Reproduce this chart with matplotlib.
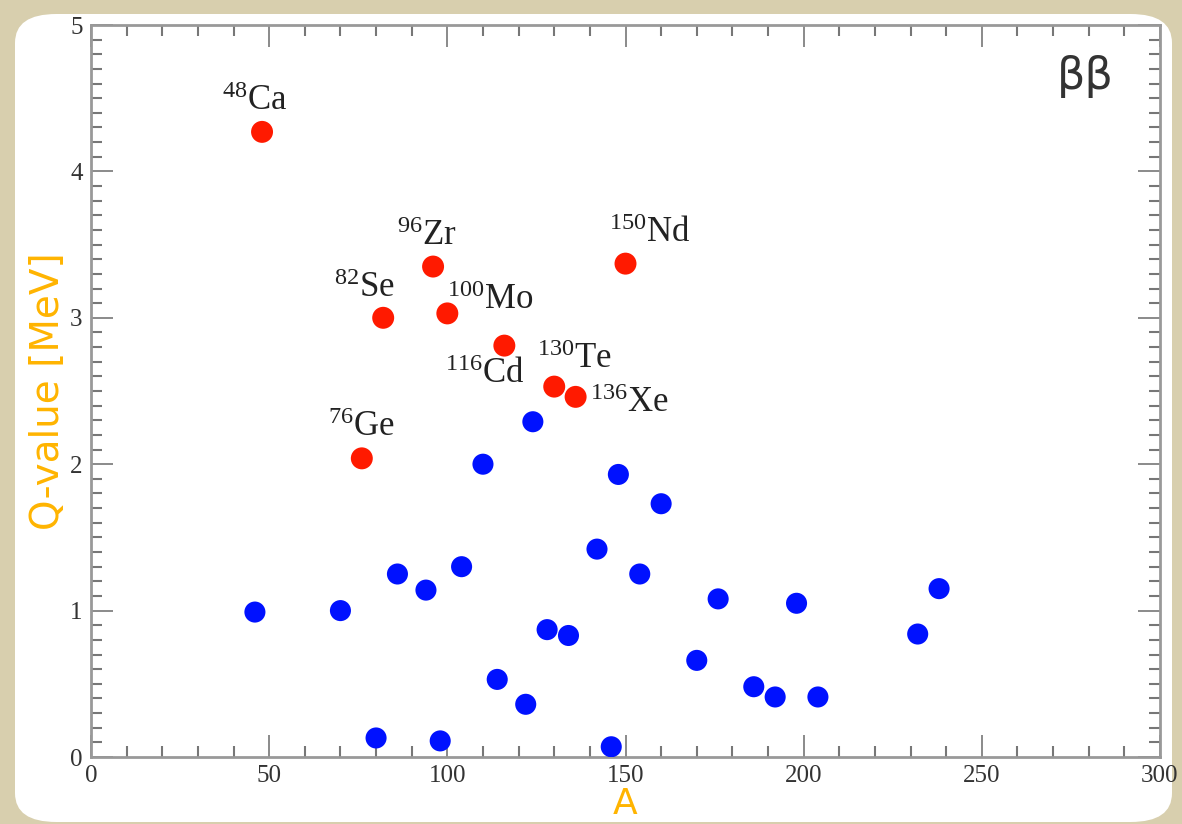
import matplotlib.pyplot as plt
from matplotlib.patches import FancyBboxPatch
from matplotlib.ticker import MultipleLocator

# double beta candidates (red) with labels
dbd_A = [48, 76, 82, 96, 100, 116, 130, 136, 150]
dbd_Q = [4.27, 2.04, 3.00, 3.35, 3.03, 2.81, 2.53, 2.46, 3.37]
dbd_names = ["Ca", "Ge", "Se", "Zr", "Mo", "Cd", "Te", "Xe", "Nd"]

# other isotopes (blue)
oth_A = [46, 70, 80, 86, 94, 98, 104, 110, 114, 122, 124, 128, 134,
         142, 146, 148, 154, 160, 170, 176, 186, 192, 198, 204, 232, 238]
oth_Q = [0.99, 1.00, 0.13, 1.25, 1.14, 0.11, 1.30, 2.00, 0.53, 0.36, 2.29, 0.87, 0.83,
         1.42, 0.07, 1.93, 1.25, 1.73, 0.66, 1.08, 0.48, 0.41, 1.05, 0.41, 0.84, 1.15]

# label offsets in pixels (dx, dy, ha, va)
lab_pos = {
    "Ca": (-7, 14, "center", "bottom"),
    "Ge": (0, 14, "center", "bottom"),
    "Se": (-19, 13, "center", "bottom"),
    "Zr": (-6, 14, "center", "bottom"),
    "Mo": (0, -4, "left", "bottom"),
    "Cd": (20, -12, "right", "top"),
    "Te": (-17, 11, "left", "bottom"),
    "Xe": (14, 10, "left", "top"),
    "Nd": (24, 14, "center", "bottom"),
}

plt.rcParams['mathtext.fontset'] = 'custom'
plt.rcParams['mathtext.rm'] = 'Liberation Serif'
plt.rcParams['mathtext.it'] = 'Liberation Serif'

fig = plt.figure(figsize=(11.82, 8.24), dpi=100)
fig.patch.set_facecolor('#d8cfae')

panel = FancyBboxPatch((15 / 1182, 2 / 824), 1157 / 1182, 808 / 824,
                       boxstyle="round,pad=0,rounding_size=0.035",
                       transform=fig.transFigure, facecolor='white',
                       edgecolor='none', zorder=-5)
fig.patches.append(panel)

ax = fig.add_axes([91 / 1182, 67 / 824, 1069 / 1182, 732 / 824])
ax.set_zorder(2)
ax.set_facecolor('white')

ax.scatter(oth_A, oth_Q, s=230, color='#0011ff', edgecolors='none', zorder=3)
ax.scatter(dbd_A, dbd_Q, s=250, color='#ff1a00', edgecolors='none', zorder=3)

for a, q, name in zip(dbd_A, dbd_Q, dbd_names):
    dx, dy, ha, va = lab_pos[name]
    ax.annotate(r"$^{%d}$%s" % (a, name), (a, q), xytext=(dx * 0.72, dy * 0.72),
                textcoords='offset points', ha=ha, va=va, fontsize=25,
                family='Liberation Serif', color='#222222')

ax.text(0.93, 0.93, "ββ", transform=ax.transAxes, fontsize=32, ha='center',
        va='center', family='DejaVu Sans', color='#333333')

ax.set_xlim(0, 300)
ax.set_ylim(0, 5)
ax.xaxis.set_major_locator(MultipleLocator(50))
ax.xaxis.set_minor_locator(MultipleLocator(10))
ax.yaxis.set_major_locator(MultipleLocator(1))
ax.yaxis.set_minor_locator(MultipleLocator(0.1))
ax.tick_params(which='both', direction='in', top=True, right=True,
               color='#777777', labelcolor='#333333')
ax.tick_params(which='major', length=16, width=1.2, labelsize=18, pad=6)
ax.tick_params(which='minor', length=8, width=1.5)
for lbl in ax.get_xticklabels() + ax.get_yticklabels():
    lbl.set_family('Liberation Serif')
for sp in ax.spines.values():
    sp.set_color('#999999')
    sp.set_linewidth(2)

ax.set_ylabel("Q-value [MeV]", fontsize=28, color='#ffb400', family='DejaVu Sans', labelpad=2)
ax.set_xlabel("A", fontsize=26, color='#ffb400', family='DejaVu Sans', labelpad=0)

fig.savefig("out.png", dpi=100, facecolor=fig.get_facecolor())
